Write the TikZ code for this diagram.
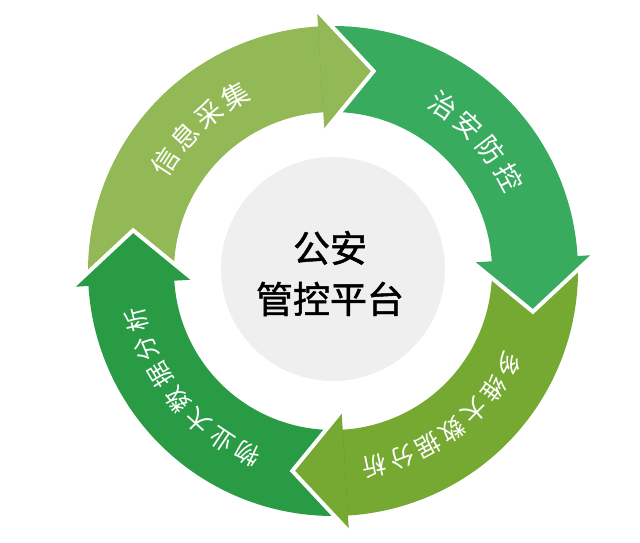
\documentclass[tikz,border=0pt]{standalone}
\usepackage{fontspec}
\setmainfont{Noto Sans CJK SC}
\newfontfamily\hubfont{Noto Sans CJK SC}[FakeBold=1.3]
\definecolor{cA}{HTML}{93B956}
\definecolor{cB}{HTML}{38AB5F}
\definecolor{cC}{HTML}{76A932}
\definecolor{cD}{HTML}{299B45}
\definecolor{hubgray}{HTML}{EFEFEF}
\tikzset{
  ringtxt/.style={text=white, inner sep=0pt, font=\fontsize{27}{27}\selectfont},
  ringtxtsmall/.style={text=white, inner sep=0pt, font=\fontsize{24.5}{24.5}\selectfont},
  gapline/.style={white, line width=4pt, line join=miter},
}
\begin{document}
\begin{tikzpicture}[x=1pt,y=1pt]
\useasboundingbox (0,0) rectangle (640,542);
\begin{scope}[shift={(333,271)}]
\def\Ri{159}\def\Ro{245}\def\Rm{204}\def\Bi{140}\def\Bo{261}
% bodies: start angle, end angle, colour
\foreach \s/\e/\c in {183.5/93/cA, 93.5/3/cB, 3.5/-87/cC, -86.5/-177/cD}{
  \fill[\c] (\s:\Ro) arc[start angle=\s, end angle=\e, radius=\Ro]
    -- (\e:\Ri) arc[start angle=\e, end angle=\s, radius=\Ri] -- cycle;
}
% heads
\foreach \b/\c in {93.5/cA, 3.5/cB, -86.5/cC, -176.5/cD}{
  \pgfmathsetmacro\t{\b-15}
  \fill[\c] (\b:\Bi) -- (\b:\Bo) -- (\t:\Rm) -- cycle;
  \draw[gapline] (\b:\Bo) -- (\t:\Rm) -- (\b:\Bi);
}
% hub
\node[circle, fill=hubgray, minimum size=224pt, inner sep=0pt] (hub) at (0,2) {};
\node[align=center, inner sep=0pt, font=\hubfont\fontsize{37}{51}\selectfont] (title) at (-3,-2.5) {公安\\管控平台};
% ring labels
\foreach \ch [count=\k] in {信,息,采,集}{
  \pgfmathsetmacro\a{147-(\k-1)*9.3}
  \node[ringtxt, rotate=\a-90] (ta\k) at (\a:200) {\ch};
}
\foreach \ch [count=\k] in {治,安,防,控}{
  \pgfmathsetmacro\a{56.4-(\k-1)*9.45}
  \node[ringtxt, rotate=\a-90] (tb\k) at (\a:199) {\ch};
}
\foreach \ch [count=\k] in {多,维,大,数,据,分,析}{
  \pgfmathsetmacro\a{-28-(\k-1)*8.35}
  \node[ringtxtsmall, rotate=\a-90] (tc\k) at (\a:199) {\ch};
}
\foreach \ch [count=\k] in {物,业,大,数,据,分,析}{
  \pgfmathsetmacro\a{-115-(\k-1)*8.5}
  \node[ringtxtsmall, rotate=\a-90] (td\k) at (\a:202) {\ch};
}
\end{scope}
\end{tikzpicture}
\end{document}
